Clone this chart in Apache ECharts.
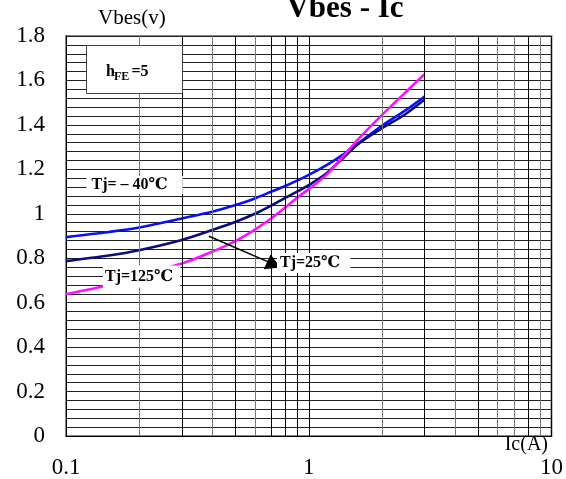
<!DOCTYPE html>
<html>
<head>
<meta charset="utf-8">
<script src="https://cdn.jsdelivr.net/npm/echarts@6/dist/echarts.min.js"></script>
<style>html,body{margin:0;padding:0;background:#fff}#c{width:566px;height:479px}</style>
</head>
<body>
<div id="c"></div>
<script>
// Collector current Ic (A)
var ic = [0.1, 0.15, 0.2, 0.3, 0.4, 0.5, 0.6, 0.7, 0.8, 0.9, 1.0, 1.18, 1.38, 1.6, 2.0, 2.5, 3.0];
// Vbes (V) at Tj = -40C
var vMinus40 = [0.895, 0.918, 0.938, 0.979, 1.009, 1.039, 1.069, 1.099, 1.125, 1.150, 1.175, 1.218, 1.265, 1.317, 1.396, 1.465, 1.528];
// Vbes (V) at Tj = 25C
var v25 = [0.787, 0.812, 0.836, 0.882, 0.927, 0.964, 1.000, 1.037, 1.072, 1.101, 1.129, 1.181, 1.249, 1.314, 1.384, 1.448, 1.514];
// Vbes (V) at Tj = 125C
var v125 = [0.638, 0.679, 0.722, 0.776, 0.829, 0.878, 0.929, 0.979, 1.028, 1.074, 1.111, 1.174, 1.256, 1.336, 1.444, 1.546, 1.628];
// minor vertical grid positions
var minorX = [0.2, 0.3, 0.4, 0.5, 0.6, 0.7, 0.8, 0.9, 2, 3, 4, 5, 6, 7, 8, 9];
var minorXDark = [false, true, false, true, false, true, true, true, false, true, false, true, false, false, true, false];
// arrow annotation (data coords)
var arrowStart = [0.388, 0.899];
var arrowEnd = [0.70, 0.778];
var arrowHead = [0.7015, 0.7855];

function pairs(xs, ys) { return xs.map(function (x, i) { return [x, ys[i]]; }); }

var chart = echarts.init(document.getElementById('c'), null, { renderer: 'canvas' });
var tickFont = { fontFamily: 'Liberation Serif', fontSize: 23, color: '#000' };
var lblFont = 'Liberation Serif, DejaVu Serif, serif';

chart.setOption({
  animation: false,
  backgroundColor: '#fff',
  grid: { left: 66, right: 13, top: 36, bottom: 43, show: true, borderColor: '#888', borderWidth: 2, backgroundColor: 'transparent' },
  xAxis: {
    type: 'log', logBase: 10, min: 0.1, max: 10,
    axisLine: { show: true, lineStyle: { color: '#000', width: 1 } },
    axisTick: { show: false },
    axisLabel: Object.assign({ margin: 20 }, tickFont),
    splitLine: { show: true, lineStyle: { color: '#000', width: 1 } }
  },
  yAxis: {
    type: 'value', min: 0, max: 1.8, interval: 0.2,
    axisLine: { show: true, lineStyle: { color: '#000', width: 1 } },
    axisTick: { show: false },
    axisLabel: Object.assign({ margin: 21 }, tickFont),
    splitLine: { show: true, lineStyle: { color: '#222', width: 1 } },
    minorTick: { show: false, splitNumber: 5 },
    minorSplitLine: { show: true, lineStyle: { color: '#222', width: 1 } }
  },
  series: [
    {
      type: 'line', data: [], silent: true, z: 1,
      markLine: {
        silent: true, symbol: ['none', 'none'], label: { show: false }, animation: false,
        data: minorX.map(function (x, i) {
          return { xAxis: x, lineStyle: { type: 'solid', width: 1, color: minorXDark[i] ? '#000' : '#777' } };
        })
      }
    },
    {
      name: 'Tj=-40', type: 'line', data: pairs(ic, vMinus40), smooth: 0.3, showSymbol: false, z: 3,
      lineStyle: { color: '#0A10F5', width: 2.6 }
    },
    {
      name: 'Tj=25', type: 'line', data: pairs(ic, v25), smooth: 0.3, showSymbol: false, z: 3,
      lineStyle: { color: '#0C0C7E', width: 2.6 }
    },
    {
      name: 'Tj=125', type: 'line', data: pairs(ic, v125), smooth: 0.3, showSymbol: false, z: 3,
      lineStyle: { color: '#FF10FF', width: 2.6 }
    },
    {
      type: 'line', data: [], silent: true, z: 4,
      markLine: {
        silent: true, symbol: ['none', 'none'], label: { show: false }, animation: false,
        lineStyle: { color: '#000', width: 1.5, type: 'solid' },
        data: [[{ coord: arrowStart }, { coord: arrowEnd }]]
      },
      markPoint: {
        silent: true, animation: false,
        data: [{ coord: arrowHead, symbol: 'triangle', symbolSize: [17, 14], symbolRotate: 6, itemStyle: { color: '#000' }, label: { show: false } }]
      }
    }
  ],
  graphic: [
    { type: 'text', x: 345, y: 9, z: 10, style: { text: 'Vbes - Ic', font: 'bold 31px Liberation Serif', fill: '#000', align: 'center', verticalAlign: 'middle' } },
    { type: 'text', x: 98, y: 18, z: 10, style: { text: 'Vbes(v)', font: '21px ' + lblFont, fill: '#000', align: 'left', verticalAlign: 'middle' } },
    { type: 'text', x: 548, y: 445, z: 10, style: { text: 'Ic(A)', font: '20px ' + lblFont, fill: '#000', align: 'right', verticalAlign: 'middle' } },
    { type: 'rect', z: 10, shape: { x: 86.5, y: 45.5, width: 96, height: 48 }, style: { fill: '#fff', stroke: '#444', lineWidth: 1 } },
    { type: 'text', x: 106, y: 72, z: 11, style: { text: 'h', font: 'bold 16px ' + lblFont, fill: '#000', align: 'left', verticalAlign: 'middle' } },
    { type: 'text', x: 114, y: 76.5, z: 11, style: { text: 'FE', font: 'bold 12px ' + lblFont, fill: '#000', align: 'left', verticalAlign: 'middle' } },
    { type: 'text', x: 131.5, y: 72, z: 11, style: { text: '=5', font: 'bold 16px ' + lblFont, fill: '#000', align: 'left', verticalAlign: 'middle' } },
    { type: 'text', x: 86.5, y: 185, z: 11, style: { text: 'Tj= \u2013 40\u2103', font: 'bold 16px ' + lblFont, fill: '#000', align: 'left', verticalAlign: 'middle', backgroundColor: '#fff', padding: [1, 15, 1, 5] } },
    { type: 'text', x: 103, y: 276.5, z: 11, style: { text: 'Tj=125\u2103', font: 'bold 16px ' + lblFont, fill: '#000', align: 'left', verticalAlign: 'middle', backgroundColor: '#fff', padding: [3, 7, 3, 2] } },
    { type: 'text', x: 277, y: 263, z: 11, style: { text: 'Tj=25\u2103', font: 'bold 16px ' + lblFont, fill: '#000', align: 'left', verticalAlign: 'middle', backgroundColor: '#fff', padding: [2, 10, 2, 3] } }
  ]
});
</script>
</body>
</html>
